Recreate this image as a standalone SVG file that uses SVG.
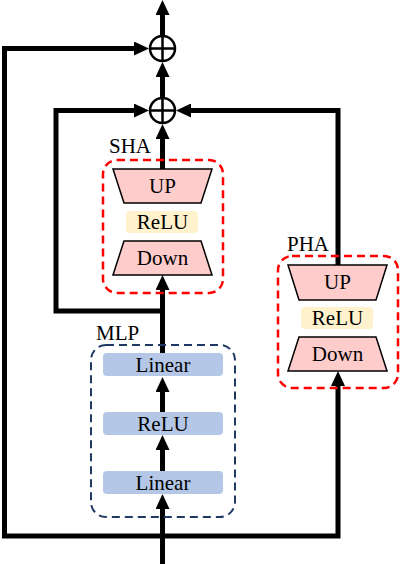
<svg xmlns="http://www.w3.org/2000/svg" width="400" height="564" viewBox="0 0 400 564">
<defs>
<style>
.t{font-family:"Liberation Serif","Times New Roman",serif;font-size:21px;fill:#000}
.c{text-anchor:middle}
.trap{fill:#FFCCCC;stroke:#000;stroke-width:1.5}
.relu{fill:#FFF2CC}
.lin{fill:#B4C7E7}
.red{fill:none;stroke:#FF0000;stroke-width:2.5;stroke-dasharray:8 5}
.navy{fill:none;stroke:#1F3864;stroke-width:2;stroke-dasharray:8 5}
.con{fill:none;stroke:#000;stroke-width:5;stroke-linejoin:miter}
.sum{fill:#fff;stroke:#000;stroke-width:2.5}
</style>
<marker id="ah" viewBox="0 0 15 14" refX="5" refY="7" markerWidth="15" markerHeight="14" markerUnits="userSpaceOnUse" orient="auto">
<path d="M0,0 L15,7 L0,14 Z" fill="#000"/>
</marker>
</defs>
<rect width="400" height="564" fill="#fff"/>

<g id="connectors">
<path class="con" d="M162.5,564 V504" marker-end="url(#ah)"/>
<path class="con" d="M162.5,471 V445" marker-end="url(#ah)"/>
<path class="con" d="M162.5,412 V387" marker-end="url(#ah)"/>
<path class="con" d="M162.5,353 V285" marker-end="url(#ah)"/>
<path class="con" d="M162.5,311 H56 V110.5 H139" marker-end="url(#ah)"/>
<path class="con" d="M162.5,169 V134" marker-end="url(#ah)"/>
<path class="con" d="M162.5,97 V72" marker-end="url(#ah)"/>
<path class="con" d="M162.5,35 V10" marker-end="url(#ah)"/>
<path class="con" d="M162.5,536 H4.5 V48.5 H139" marker-end="url(#ah)"/>
<path class="con" d="M162.5,536 H338 V381" marker-end="url(#ah)"/>
<path class="con" d="M338,265 V110.5 H186" marker-end="url(#ah)"/>
</g>

<g id="sum1">
<circle class="sum" cx="162.5" cy="48.5" r="12.5"/>
<path d="M150,48.5 H175 M162.5,36 V61" stroke="#000" stroke-width="2.5"/>
</g>
<g id="sum2">
<circle class="sum" cx="162.5" cy="110.5" r="12.5"/>
<path d="M150,110.5 H175 M162.5,98 V123" stroke="#000" stroke-width="2.5"/>
</g>

<g id="sha">
<rect class="red" x="103" y="160" width="120" height="133" rx="14"/>
<text class="t" x="109" y="153">SHA</text>
<polygon class="trap" points="113,169 212,169 201,203 124,203"/>
<text class="t c" x="162.5" y="193">UP</text>
<rect class="relu" x="126" y="211" width="72" height="22" rx="4"/>
<text class="t c" x="162.5" y="229">ReLU</text>
<polygon class="trap" points="124,241 201,241 212,275 113,275"/>
<text class="t c" x="162.5" y="265">Down</text>
</g>

<g id="pha">
<rect class="red" x="278" y="256" width="120" height="132" rx="14"/>
<text class="t" x="287" y="251">PHA</text>
<polygon class="trap" points="288,265 387,265 376,300 299,300"/>
<text class="t c" x="337.5" y="289">UP</text>
<rect class="relu" x="301" y="307" width="72" height="22" rx="4"/>
<text class="t c" x="337.5" y="325">ReLU</text>
<polygon class="trap" points="299,337 376,337 387,371 288,371"/>
<text class="t c" x="337.5" y="361">Down</text>
</g>

<g id="mlp">
<rect class="navy" x="91" y="345" width="144" height="172" rx="15"/>
<text class="t" x="96" y="340">MLP</text>
<rect class="lin" x="103" y="353" width="120" height="23" rx="4"/>
<text class="t c" x="163" y="372">Linear</text>
<rect class="lin" x="103" y="412" width="120" height="23" rx="4"/>
<text class="t c" x="163" y="431">ReLU</text>
<rect class="lin" x="103" y="471" width="120" height="23" rx="4"/>
<text class="t c" x="163" y="490">Linear</text>
</g>
</svg>
